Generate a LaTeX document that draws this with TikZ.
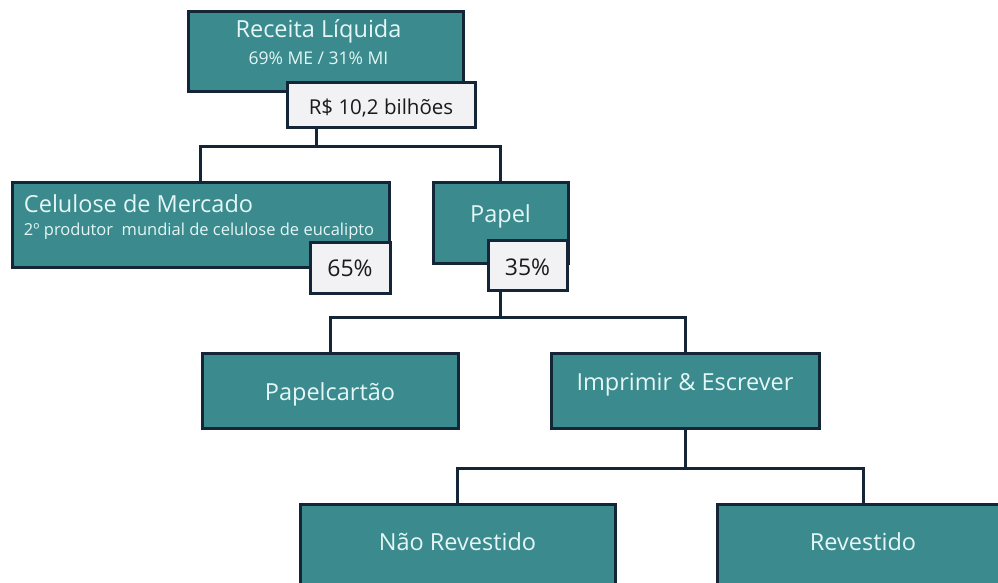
\documentclass[tikz,border=0pt]{standalone}
\usepackage{fontspec}
\setmainfont{Open Sans}
\renewcommand{\arraystretch}{0}
\definecolor{boxfill}{RGB}{58,138,142}
\definecolor{bdr}{RGB}{19,37,55}
\definecolor{tagfill}{RGB}{242,242,244}
\definecolor{boxtext}{RGB}{228,247,246}
\definecolor{tagtext}{RGB}{26,26,26}
\newcommand{\fT}{\fontsize{23.5}{28}\selectfont}
\newcommand{\fS}{\fontsize{16.5}{20}\selectfont}
\newcommand{\fSS}{\fontsize{17.5}{21}\selectfont}
\newcommand{\fL}{\fontsize{20.5}{24}\selectfont}
\newcommand{\fP}{\fontsize{23}{27}\selectfont}
\newcommand{\bt}[4]{\makebox[#1]{\raisebox{0pt}[#2][#3]{#4}}}
\tikzset{
  box/.style={draw=bdr, fill=boxfill, line width=3pt, inner sep=0pt, outer sep=0pt, anchor=north west, text=boxtext},
  tag/.style={draw=bdr, fill=tagfill, line width=3pt, inner sep=0pt, outer sep=0pt, anchor=north west, text=tagtext},
  link/.style={draw=bdr, line width=3pt}
}
\begin{document}
\begin{tikzpicture}[x=1pt,y=-1pt]
\fill[white] (0,0) rectangle (998,583);
\useasboundingbox (0,0) rectangle (998,583);
\clip (0,0) rectangle (998,583);

% boxes
\node[box] (rec) at (188,12) {\bt{275pt}{53pt}{27pt}{\begin{tabular}[b]{@{}c@{}}{\fT Receita Líquida}\\[15pt]{\fSS 69\% ME / 31\% MI}\end{tabular}\hspace{14pt}}};
\node[box] (cel) at (12,182) {\makebox[377pt][l]{\hspace{12pt}\raisebox{0pt}[53pt][32pt]{\begin{tabular}[b]{@{}l@{}}{\fT Celulose de Mercado}\\[9.5pt]{\fS 2º produtor~ mundial de celulose de eucalipto}\end{tabular}}}};
\node[box] (pap) at (433,182) {\bt{135pt}{40pt}{41pt}{\fT Papel}};
\node[box] (pc) at (202,353) {\bt{256pt}{47pt}{28pt}{\fT Papelcartão}};
\node[box] (ie) at (551,353) {\bt{268pt}{37pt}{38pt}{\fT Imprimir \& Escrever}};
\node[box] (nr) at (300,504) {\bt{315pt}{46pt}{84pt}{\fT Não Revestido}};
\node[box] (rv) at (717,504) {\bt{292pt}{46pt}{84pt}{\fT Revestido}};

% tags
\node[tag] (recl) at (287,83) {\bt{188pt}{32pt}{13pt}{\fL R\$ 10,2 bilhões}};
\node[tag] (cell) at (310,242) {\bt{80pt}{34pt}{17pt}{\fP 65\%}};
\node[tag] (papl) at (488,240) {\bt{79pt}{35pt}{15pt}{\fP 35\%}};

% junctions
\coordinate (j1) at (316,146);
\coordinate (j2) at (500,317);
\coordinate (j3) at (686,468);

% connectors
\draw[link] (recl.south -| j1) -- (j1);
\draw[link] (cel.north) |- (j1) -| (pap.north);
\draw[link] (papl.south -| j2) -- (j2);
\draw[link] (pc.north) |- (j2) -| (ie.north);
\draw[link] (ie.south) -- (ie.south |- j3);
\draw[link] (nr.north) |- (j3) -| (rv.north);
\end{tikzpicture}
\end{document}
